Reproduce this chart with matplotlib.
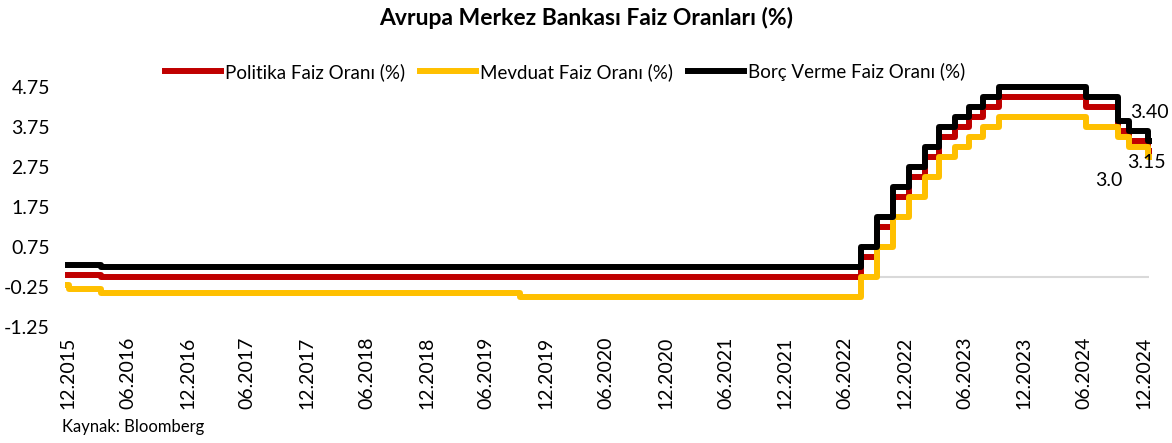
import matplotlib
matplotlib.use("Agg")
import matplotlib.pyplot as plt
import numpy as np
import pandas as pd

plt.rcParams['font.family'] = ['Lato', 'DejaVu Sans']

# ECB rate decisions (change dates) and the levels after each change
change_dates = ["2015-12-01", "2015-12-03", "2016-03-10", "2019-09-12", "2022-07-21",
                "2022-09-08", "2022-10-27", "2022-12-15", "2023-02-02", "2023-03-16",
                "2023-05-04", "2023-06-15", "2023-07-27", "2023-09-14", "2024-06-06",
                "2024-09-12", "2024-10-17", "2024-12-12", "2024-12-16"]
politika = [0.05, 0.05, 0.00, 0.00, 0.50, 1.25, 2.00, 2.50, 3.00, 3.50,
            3.75, 4.00, 4.25, 4.50, 4.25, 3.65, 3.40, 3.15, 3.15]
mevduat = [-0.20, -0.30, -0.40, -0.50, 0.00, 0.75, 1.50, 2.00, 2.50, 3.00,
           3.25, 3.50, 3.75, 4.00, 3.75, 3.50, 3.25, 3.00, 3.00]
borc = [0.30, 0.30, 0.25, 0.25, 0.75, 1.50, 2.25, 2.75, 3.25, 3.75,
        4.00, 4.25, 4.50, 4.75, 4.50, 3.90, 3.65, 3.40, 3.40]

series_names = ["Politika Faiz Oranı (%)", "Mevduat Faiz Oranı (%)", "Borç Verme Faiz Oranı (%)"]
colors = ["#C00000", "#FFC000", "#000000"]
y_ticks = [-1.25, -0.25, 0.75, 1.75, 2.75, 3.75, 4.75]

dates = pd.to_datetime(change_dates)

fig = plt.figure(figsize=(11.72, 4.43), dpi=100)
ax = fig.add_axes([68/1172, 1 - 327/443, (1149-68)/1172, 240/443])

ax.axhline(0, color="#D9D9D9", lw=1.5, zorder=1)

for vals, col, name in zip([politika, mevduat, borc], colors, series_names):
    ax.plot(dates, vals, drawstyle="steps-post", color=col, lw=4.3,
            label=name, clip_on=False, zorder=3)

ax.set_xlim(dates[0], dates[-1])
ax.set_ylim(-1.25, 4.75)
ax.set_yticks(y_ticks)
ax.set_yticklabels([f"{v:.2f}" for v in y_ticks])

tick_dates = pd.date_range("2015-12-01", "2024-12-01", freq="6MS")
ax.set_xticks(tick_dates)
ax.set_xticklabels([d.strftime("%m.%Y") for d in tick_dates], rotation=90)

for s in ax.spines.values():
    s.set_visible(False)
ax.tick_params(axis="both", length=0, labelsize=14)
ax.tick_params(axis="y", pad=13)
ax.tick_params(axis="x", pad=7)

# end-point labels
ax.annotate("3.40", (dates[-1], borc[-1]), xytext=(-19, 28), textcoords="offset pixels",
            fontsize=14, ha="left", va="center", annotation_clip=False)
ax.annotate("3.15", (dates[-1], politika[-1]), xytext=(-22, -12), textcoords="offset pixels",
            fontsize=14, ha="left", va="center", annotation_clip=False)
ax.annotate("3.0", (dates[-1], mevduat[-1]), xytext=(-54, -23), textcoords="offset pixels",
            fontsize=14, ha="left", va="center", annotation_clip=False)

fig.text(0.5, 1 - 18/443, "Avrupa Merkez Bankası Faiz Oranları (%)", ha="center",
         va="center", fontsize=16.5, fontweight="bold")

ax.legend(loc="center", bbox_to_anchor=(565/1172, 1 - 72/443), bbox_transform=fig.transFigure,
          ncol=3, frameon=False, fontsize=13.5, handlelength=3.0, handletextpad=0.2,
          columnspacing=0.8, borderaxespad=0)

fig.text(62/1172, 1 - 427/443, "Kaynak: Bloomberg", ha="left", va="center", fontsize=12)

fig.savefig("out.png", dpi=100)
